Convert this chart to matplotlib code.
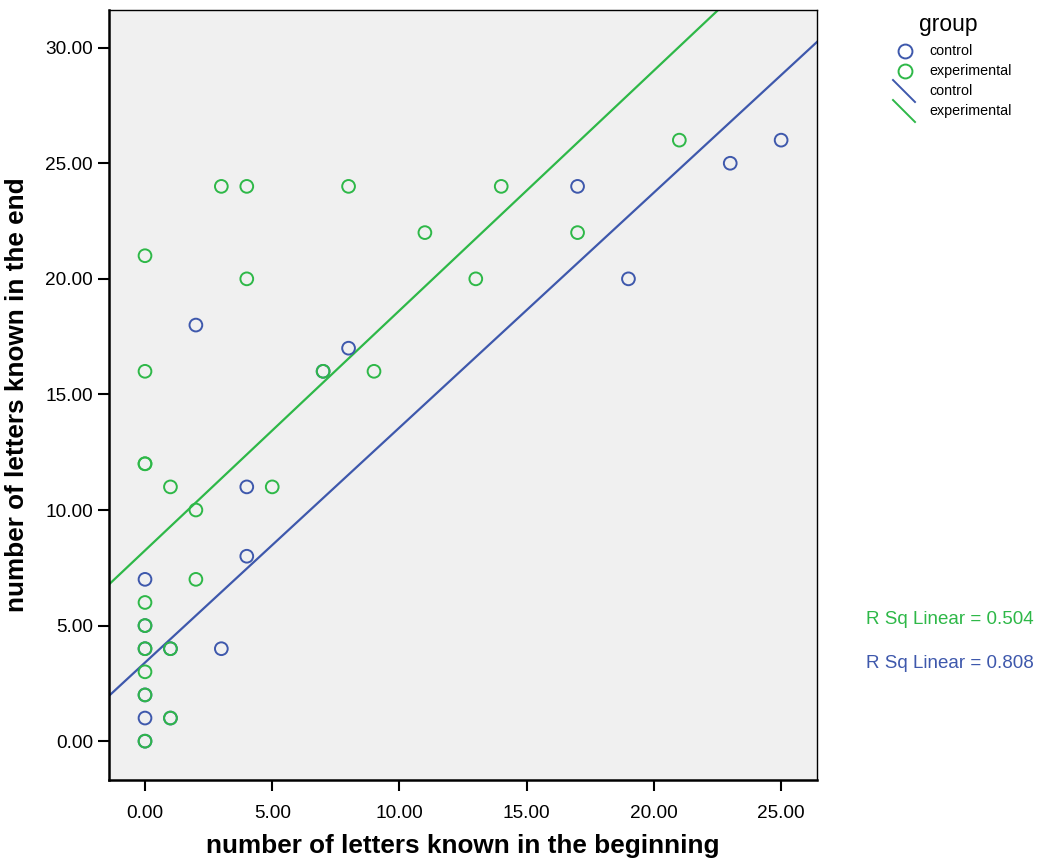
import numpy as np
import matplotlib
matplotlib.use("Agg")
import matplotlib.pyplot as plt
from matplotlib.lines import Line2D

plt.rcParams['font.family'] = ['Liberation Sans', 'DejaVu Sans']

# Letters known at the start vs. at the end, per group
control_begin = [0, 0, 0, 0, 0, 0, 1, 1, 2, 3, 4, 4, 7, 8, 17, 19, 23, 25]
control_end   = [7, 1, 0, 2, 4, 5, 1, 4, 18, 4, 8, 11, 16, 17, 24, 20, 25, 26]

exp_begin = [0, 0, 0, 0, 0, 0, 0, 0, 0, 0, 1, 1, 1, 2, 2, 3, 4, 4, 5, 7, 8, 9, 11, 13, 14, 17, 21]
exp_end   = [21, 16, 12, 6, 5, 4, 3, 2, 0, 12, 11, 4, 1, 10, 7, 24, 24, 20, 11, 16, 24, 16, 22, 20, 24, 22, 26]

# Fitted linear trends (intercept, slope) and their R squared
control_fit = (3.40, 1.0166)
exp_fit = (8.25, 1.038)
control_r2 = 0.808
exp_r2 = 0.504

x_ticks = [0, 5, 10, 15, 20, 25]
y_ticks = [0, 5, 10, 15, 20, 25, 30]

BLUE = '#3E58AC'
GREEN = '#2EB848'

fig = plt.figure(figsize=(10.42, 8.67), dpi=100)
ax = fig.add_axes([109 / 1042, 87 / 867, 708 / 1042, 770 / 867])
ax.set_facecolor('#F0F0F0')

xlim = (-1.415, 26.41)
ylim = (-1.68, 31.63)
ax.set_xlim(*xlim)
ax.set_ylim(*ylim)

ms = 84
ax.scatter(control_begin, control_end, s=ms, facecolors='none', edgecolors=BLUE,
           linewidths=1.4, zorder=3)
ax.scatter(exp_begin, exp_end, s=ms, facecolors='none', edgecolors=GREEN,
           linewidths=1.4, zorder=4)

xs = np.array(xlim)
ax.plot(xs, control_fit[0] + control_fit[1] * xs, color=BLUE, lw=1.6, zorder=2)
ax.plot(xs, exp_fit[0] + exp_fit[1] * xs, color=GREEN, lw=1.6, zorder=2)

ax.set_xticks(x_ticks)
ax.set_xticklabels([f'{v:.2f}' for v in x_ticks])
ax.set_yticks(y_ticks)
ax.set_yticklabels([f'{v:.2f}' for v in y_ticks])
ax.tick_params(axis='both', direction='out', length=8, width=1.5, labelsize=13.7,
               color='black')
ax.tick_params(axis='x', pad=10)
ax.tick_params(axis='y', pad=3.5)

for side in ['left', 'bottom']:
    ax.spines[side].set_linewidth(1.8)
for side in ['top', 'right']:
    ax.spines[side].set_linewidth(1.0)

ax.set_xlabel('number of letters known in the beginning', fontsize=18.8,
              fontweight='bold', labelpad=9)
ax.set_ylabel('number of letters known in the end', fontsize=18.8,
              fontweight='bold', labelpad=12)

# Legend drawn in figure pixel coordinates
W, H = 1042, 867
def fx(px):
    return px / W
def fy(py):
    return 1 - py / H

fig.text(fx(948), fy(25), 'group', fontsize=16.5, ha='center', va='center')
entries = [('control', 51), ('experimental', 71)]
for (label, yy), col in zip(entries, [BLUE, GREEN]):
    fig.add_artist(Line2D([fx(905)], [fy(yy)], marker='o', markersize=10,
                          markerfacecolor='none', markeredgecolor=col,
                          markeredgewidth=1.4, linestyle='none'))
    fig.text(fx(929), fy(yy), label, fontsize=10.3, ha='left', va='center')
for (label, yy), col in zip([('control', 91), ('experimental', 111)], [BLUE, GREEN]):
    fig.add_artist(Line2D([fx(893), fx(915)], [fy(yy - 11), fy(yy + 11)],
                          color=col, lw=1.4))
    fig.text(fx(929), fy(yy), label, fontsize=10.3, ha='left', va='center')

fig.text(fx(866), fy(620), f'R Sq Linear = {exp_r2:.3f}', color=GREEN,
         fontsize=13.5, ha='left', va='center')
fig.text(fx(866), fy(664), f'R Sq Linear = {control_r2:.3f}', color=BLUE,
         fontsize=13.5, ha='left', va='center')

fig.savefig('out.png', dpi=100, facecolor='white')
